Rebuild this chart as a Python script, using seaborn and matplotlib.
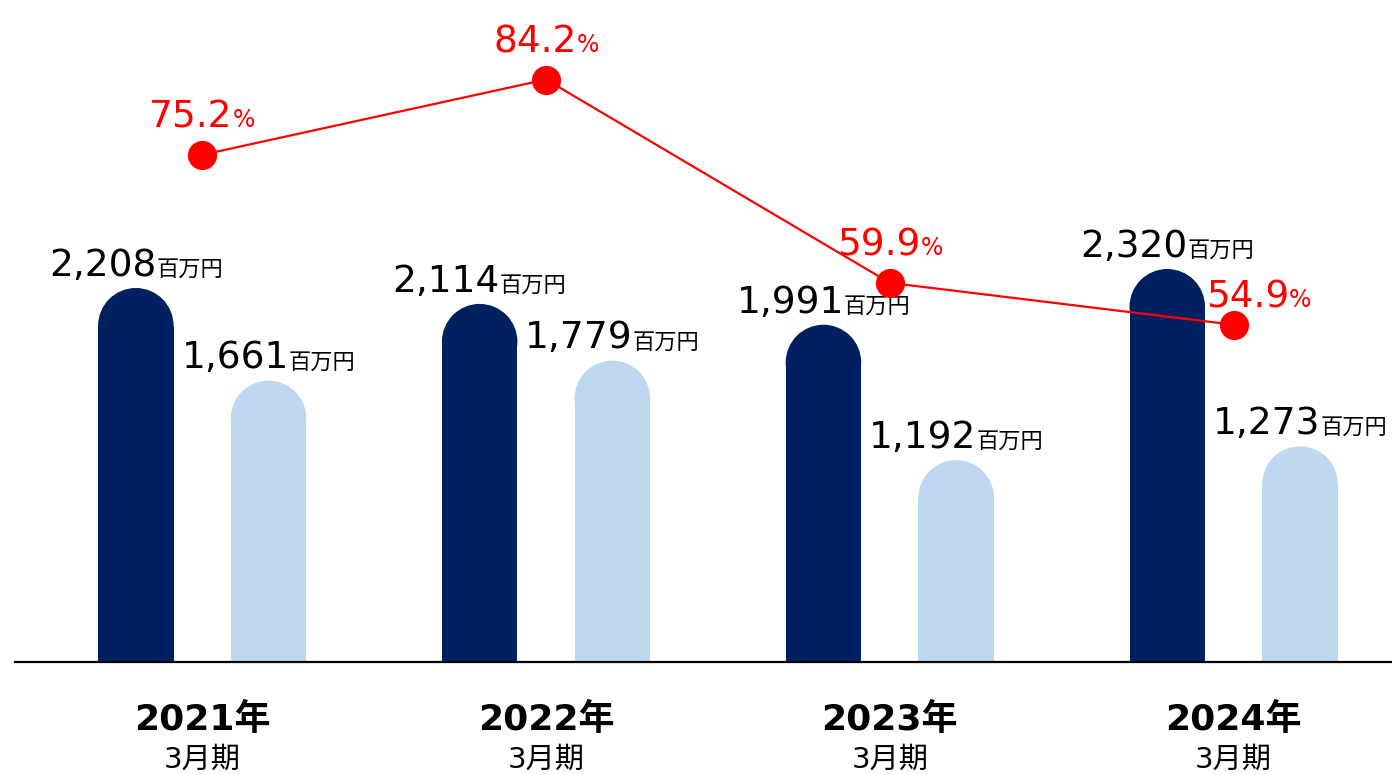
import matplotlib
matplotlib.use('Agg')
import matplotlib.pyplot as plt
import seaborn as sns
import pandas as pd
from matplotlib.patches import Ellipse
from matplotlib.offsetbox import TextArea, HPacker, AnnotationBbox

# data
years = ['2021年', '2022年', '2023年', '2024年']
period = '3月期'
series = ['A', 'B']
values_a = [2208, 2114, 1991, 2320]
values_b = [1661, 1779, 1192, 1273]
ratio = [75.2, 84.2, 59.9, 54.9]
unit = '百万円'
ratio_unit = '%'

DARK = '#002060'
LIGHT = '#BDD7EE'
RED = '#FF0000'

df = pd.DataFrame({
    'year': years * 2,
    'series': [series[0]] * 4 + [series[1]] * 4,
    'value': values_a + values_b,
})

sns.set_style('white')
plt.rcParams['font.family'] = ['DejaVu Sans', 'Noto Sans CJK JP']
plt.rcParams['text.color'] = 'black'

fig = plt.figure(figsize=(13.92, 7.75), dpi=100)
ax = fig.add_axes([15 / 1392, 113 / 775, 1377 / 1392, 662 / 775])

sns.barplot(data=df, x='year', y='value', hue='series', palette=[DARK, LIGHT],
            width=0.772, gap=0.431, legend=False, ax=ax, linewidth=0, saturation=1)
ax.set_xlim(-0.5445, 3.4607)
ax.set_ylim(0, 3908)

# rounded tops: shorten each bar by its radius and cap it with a half-ellipse
bars = [p for p in ax.patches]
px_per_x = ax.transData.transform((1, 0))[0] - ax.transData.transform((0, 0))[0]
px_per_y = ax.transData.transform((0, 1))[1] - ax.transData.transform((0, 0))[1]
for p in bars:
    x0, w, h = p.get_x(), p.get_width(), p.get_height()
    r_y = (w * px_per_x / 2) / px_per_y
    p.set_height(h - r_y)
    ax.add_patch(Ellipse((x0 + w / 2, h - r_y), w, 2 * r_y,
                         facecolor=p.get_facecolor(), linewidth=0))

# value labels
for p, v in zip(bars, values_a + values_b):
    top = p.get_y() + p.get_height() + (p.get_width() * px_per_x / 2) / px_per_y
    box = HPacker(children=[
        TextArea(f'{v:,}', textprops=dict(size=27, color='black')),
        TextArea(unit, textprops=dict(size=16, color='black')),
    ], align='baseline', pad=0, sep=0)
    ab = AnnotationBbox(box, (p.get_x() + p.get_width() / 2, top),
                        xybox=(0, 3), boxcoords='offset points',
                        box_alignment=(0.5, 0), frameon=False)
    ax.add_artist(ab)

# axes styling
for s in ['top', 'right', 'left']:
    ax.spines[s].set_visible(False)
ax.spines['bottom'].set_color('black')
ax.spines['bottom'].set_linewidth(1.6)
ax.set_yticks([])
ax.set_xlabel('')
ax.set_ylabel('')
ax.tick_params(axis='x', length=0, labelbottom=False)

for i, y in enumerate(years):
    ax.annotate(y, xy=(i, 0), xycoords=('data', 'axes fraction'),
                xytext=(0, -49), textcoords='offset points', color='black',
                ha='center', va='baseline', size=26, fontweight='bold')
    ax.annotate(period, xy=(i, 0), xycoords=('data', 'axes fraction'),
                xytext=(0, -76), textcoords='offset points', color='black',
                ha='center', va='baseline', size=21)

# ratio line on a twin axis
ax2 = ax.twinx()
sns.lineplot(x=years, y=ratio, ax=ax2, color=RED, linewidth=1.6,
             marker='o', markersize=21, markeredgewidth=0, sort=False)
ax2.set_xlim(-0.5445, 3.4607)
ax2.set_ylim(14.6, 93.7)
ax2.axis('off')

label_offsets = [(0, 14), (0, 14), (0, 14), (18, 7)]
for i, (r, off) in enumerate(zip(ratio, label_offsets)):
    box = HPacker(children=[
        TextArea(f'{r:.1f}', textprops=dict(size=27, color=RED)),
        TextArea(ratio_unit, textprops=dict(size=17, color=RED)),
    ], align='baseline', pad=0, sep=0)
    ab = AnnotationBbox(box, (i, r), xybox=off, boxcoords='offset points',
                        box_alignment=(0.5, 0), frameon=False)
    ax2.add_artist(ab)

plt.savefig('out.png', dpi=100)
